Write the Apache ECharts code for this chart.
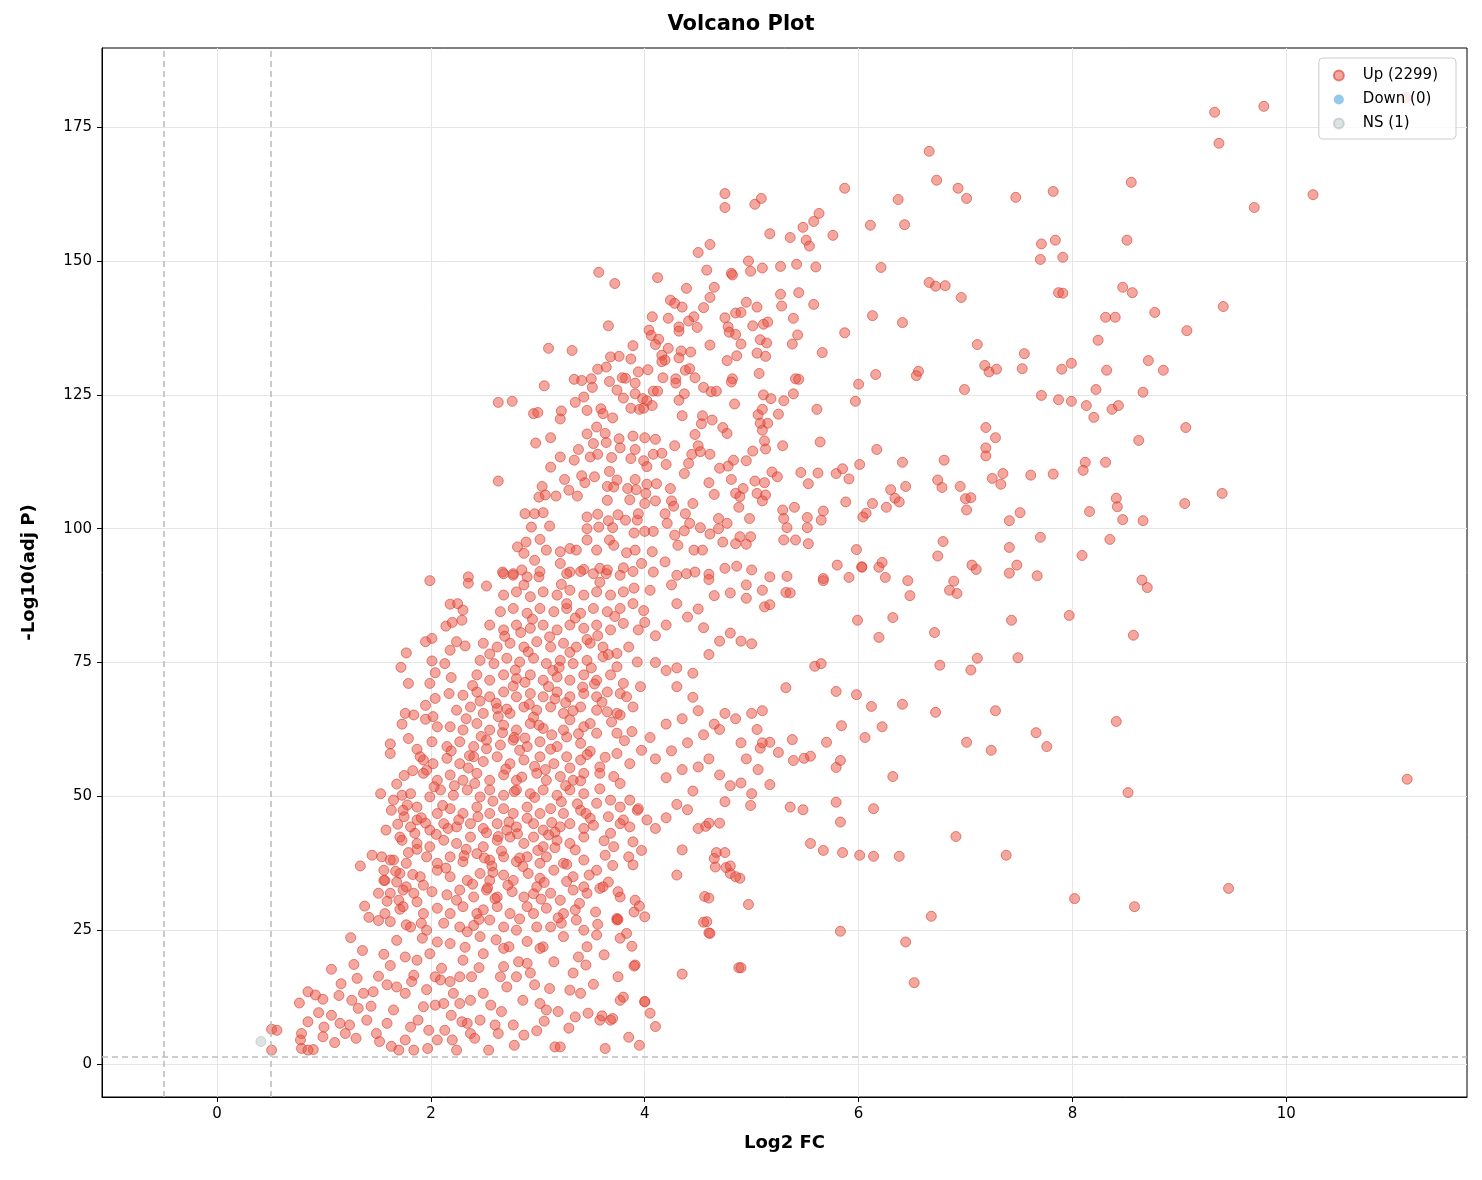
<!DOCTYPE html>
<html><head><meta charset="utf-8">
<script src="https://cdn.jsdelivr.net/npm/echarts@6/dist/echarts.min.js"></script>
<style>html,body{margin:0;padding:0;background:#fff}#c{width:1482px;height:1180px}</style>
</head><body><div id="c"></div>
<script>
const xTicks = [0, 2, 4, 6, 8, 10];
const yTicks = [0, 25, 50, 75, 100, 125, 150, 175];
const nsPoints = [[0.41, 4.2]];
const downPoints = [];
const upOutliers = [
[11.12,180.6],[11.13,53.2],[9.33,177.8],[9.79,178.9],[9.37,172.0],[9.70,160.0],[10.25,162.4],
[6.66,170.5],[6.73,165.1],[6.93,163.6],[7.01,161.7],[6.37,161.5],[7.47,161.9],[7.82,163.0],[8.55,164.7],
[6.11,156.7],[6.43,156.8],[7.71,153.2],[7.84,153.9],[7.70,150.3],[7.91,150.7],[8.51,153.9],[6.21,148.8],
[6.66,146.0],[6.72,145.3],[6.81,145.4],[6.96,143.2],[7.87,144.1],[7.91,144.0],[8.47,145.1],[8.56,144.1],
[9.41,141.5],[6.13,139.8],[6.41,138.5],[8.31,139.5],[8.40,139.5],[8.77,140.4],[9.07,137.0],[7.11,134.4],
[8.24,135.2],[7.55,132.7],[7.18,130.5],[7.22,129.3],[7.29,129.8],[7.53,129.9],[7.99,130.9],[7.90,129.8],
[8.32,129.6],[8.71,131.4],[8.85,129.6],[6.16,128.8],[6.00,127.0],[6.54,128.6],[6.56,129.4],[6.99,126.0],
[5.97,123.8],[7.71,124.9],[7.87,124.1],[7.99,123.8],[8.13,123.0],[8.22,126.0],[8.37,122.3],[8.43,123.0],
[8.20,120.8],[8.66,125.5],[9.06,118.9],[7.19,118.9],[7.28,117.0],[7.19,115.1],[7.19,113.6],[8.62,116.5],
[6.17,114.8],[6.01,112.0],[6.41,112.4],[6.80,112.8],[8.12,112.4],[8.10,110.9],[8.31,112.4],[7.35,110.3],
[7.25,109.4],[7.33,108.3],[7.61,110.0],[7.82,110.2],[6.74,109.1],[6.78,107.7],[6.44,107.9],[6.30,107.3],
[6.34,105.7],[6.38,105.0],[6.95,107.9],[7.00,105.6],[7.05,105.8],[7.01,103.5],[6.13,104.7],[6.26,104.0],
[6.07,102.9],[6.04,102.2],[7.51,103.0],[7.41,101.5],[8.16,103.2],[8.41,105.7],[8.42,104.1],[8.47,101.7],
[8.66,101.5],[9.05,104.7],[9.40,106.6],[6.79,97.6],[6.74,94.9],[7.41,96.5],[7.70,98.4],[8.35,98.0],
[8.09,95.0],[5.98,96.1],[6.03,92.8],[6.19,92.8],[6.22,93.7],[7.06,93.2],[7.10,92.4],[7.48,93.2],
[7.41,91.7],[7.67,91.2],
[5.12,85.4],[5.17,85.8],[5.32,88.1],[5.36,88.0],[5.67,90.3],[5.91,90.9],[6.25,90.9],[6.46,90.3],
[6.48,87.5],[6.85,88.5],[6.92,87.9],[6.89,90.2],[8.65,90.4],[8.70,89.0],[5.99,82.9],[6.32,83.4],
[6.71,80.6],[7.43,82.9],[7.97,83.8],[8.57,80.1],[6.19,79.7],[6.76,74.5],[7.05,73.6],[7.11,75.8],
[7.49,75.9],[5.59,74.3],[5.65,74.8],[5.32,70.3],[5.79,69.6],[5.98,69.0],[6.12,66.8],[6.41,67.2],
[6.72,65.7],[7.28,66.0],[8.41,64.0],[5.84,63.2],[6.22,63.0],[6.06,61.0],[7.01,60.1],[7.24,58.6],
[7.66,61.9],[7.76,59.3],[5.38,60.6],[5.70,60.1],[5.17,60.1],[5.08,59.0],[5.25,58.2],[5.39,56.7],
[5.49,57.1],[5.55,57.5],[5.83,56.7],[5.79,55.4],[6.32,53.7],[8.52,50.7],[5.06,55.0],[5.17,52.2],
[4.99,48.3],[5.36,48.0],[5.48,47.5],[5.79,48.9],[6.14,47.7],[5.83,45.2],[4.57,44.4],[5.55,41.2],
[5.67,39.9],[5.85,39.5],[6.01,39.0],[6.14,38.8],[6.38,38.8],[7.38,39.0],[6.91,42.5],[4.67,39.5],
[4.65,38.4],[4.66,36.8],[4.76,36.7],[4.80,35.6],[4.89,34.7],[9.46,32.8],[8.02,30.9],[8.58,29.4],
[4.56,31.3],[4.97,29.8],[4.58,26.6],[4.61,24.4],[6.68,27.6],[5.83,24.8],[6.44,22.8],[4.88,18.0],[6.52,15.2]
];
const upUpper = [
[4.75,162.6],[4.75,160.0],[5.03,160.6],[5.09,161.7],[5.87,163.6],[5.63,158.9],[5.58,157.4],[5.48,156.3],
[5.51,153.9],[5.54,152.8],[5.36,154.4],[5.17,155.1],[5.76,154.8],[4.61,153.1],[4.50,151.6],
[4.58,148.3],[4.81,147.7],[4.82,147.4],[4.97,150.0],[4.99,148.1],[5.10,148.7],[5.27,149.0],[5.42,149.4],
[5.60,148.9],[3.57,147.9],[3.72,145.8],[4.12,146.9],[4.39,144.9],[4.65,145.1],[5.27,143.8],[5.44,144.1],
[5.28,141.6],[5.58,141.9],[5.87,136.6],[5.66,132.9],[4.24,142.7],[4.28,142.1],[4.35,141.4],
[4.46,139.6],[4.55,141.3],[4.61,143.2],[4.95,142.3],[5.05,141.4],[4.07,139.6],[4.22,139.3],[4.32,137.7],
[4.41,138.8],[4.49,137.6],[4.75,139.4],[4.85,140.3],[4.90,140.4],[4.78,137.7],[5.01,137.9],[5.11,138.2],
[5.15,138.6],[5.39,139.3],[3.66,137.9],[4.04,137.1],[4.06,136.1],[4.13,135.4],[4.10,134.4],[4.32,136.9],
[4.79,136.7],[4.85,136.3],[5.08,135.3],[5.14,134.7],[5.43,136.2],[5.38,134.5],[3.10,133.7],[3.32,133.3],
[3.89,134.2],[3.87,131.7],[3.68,132.1],[3.76,132.2],[4.22,133.7],[4.16,132.4],[4.19,131.5],[4.34,133.2],
[4.43,133.0],[4.32,131.9],[4.61,134.3],[4.90,134.5],[4.86,132.3],[4.77,131.4],[5.05,132.8],[5.13,132.2],
[3.56,129.8],[3.64,130.2],[3.82,128.1],[3.79,128.2],[3.94,129.3],[4.03,129.7],[4.17,128.2],[4.16,131.2],
[4.38,129.6],[4.42,129.9],[4.47,128.2],[4.29,128.0],[4.82,128.0],[4.81,127.4],[5.07,129.0],[5.41,128.0],
[5.44,127.9],[3.34,127.9],[3.41,127.7],[3.50,128.0],[3.06,126.7],[3.51,126.4],[3.67,127.5],
[3.74,125.9],[3.80,124.4],[3.91,127.2],[3.91,125.2],[3.98,124.3],[4.08,125.7],[4.12,125.7],[4.02,123.9],
[4.29,127.2],[4.37,125.2],[4.32,124.0],[4.55,126.4],[4.62,125.6],[4.67,125.7],[4.84,123.3],[5.11,125.0],
[5.18,124.3],[5.30,123.9],[5.39,125.2],[5.61,122.3],[2.63,123.6],[2.76,123.8],[2.96,121.5],
[3.00,121.7],[3.22,122.0],[3.21,120.5],[3.35,123.6],[3.43,124.6],[3.46,122.1],[3.59,122.4],[3.61,121.5],
[3.70,120.7],[3.87,122.5],[3.95,122.3],[3.99,122.5],[4.07,123.0],[4.35,121.1],[4.54,121.1],[4.63,120.3],
[4.53,119.6],[4.73,118.9],[4.77,117.8],[5.06,121.3],[5.10,122.3],[5.15,119.7],[5.25,121.4],[5.08,119.7],
[5.10,118.4],[5.12,116.4],[5.13,114.9],[5.29,115.5],[5.64,116.2],[2.98,116.0],[3.12,117.0],
[3.55,119.0],[3.46,117.7],[3.52,115.9],[3.63,117.8],[3.64,116.1],[3.76,116.8],[3.77,115.1],[3.89,117.3],
[4.00,117.0],[3.91,114.8],[4.10,116.7],[4.28,115.5],[4.47,117.6],[4.50,115.5],[4.44,113.9],[4.52,114.4],
[4.61,113.9],[4.41,112.2],[4.37,110.3],[4.70,111.3],[4.78,111.7],[4.81,109.2],[4.83,112.8],[4.95,112.7],
[5.01,114.5],[5.19,110.6],[5.24,109.7],[5.46,110.5],[5.62,110.4],[5.53,108.4],[5.79,110.3],[5.91,109.3],
[5.85,111.2],[3.12,111.5],[3.21,113.4],[3.34,112.8],[3.38,114.8],[3.49,113.4],[3.56,113.9],[3.69,113.3],
[3.87,113.1],[3.99,112.7],[4.02,111.6],[4.08,113.9],[4.16,114.1],[4.20,112.0],[2.63,108.9],[3.04,107.9],
[3.01,105.9],[3.07,106.3],[3.17,106.1],[3.25,109.2],[3.29,107.2],[3.37,106.1],[3.41,109.9],[3.44,108.6],
[3.53,109.7],[3.67,110.7],[3.65,107.9],[3.71,107.8],[3.74,109.1],[3.84,107.5],[3.91,109.2],[3.92,107.3],
[4.02,108.3],[4.11,108.4],[4.24,107.5],[4.01,106.6],[4.00,104.7],[4.10,105.2],[3.86,105.4],[3.65,105.3],
[4.25,105.2],[4.45,104.7],[4.60,108.6],[4.65,106.4],[4.85,106.6],[4.92,107.5],[4.89,106.0],[5.03,108.9],
[5.12,108.6],[5.05,106.6],[5.13,106.3],[5.10,105.2],[4.88,104.0],[5.29,103.5],[5.40,104.0],[5.52,102.1],
[5.67,103.3],[5.65,101.6],[5.88,105.0],[2.88,102.8],[2.97,102.8],[3.05,103.0],
[2.94,100.3],[3.11,100.5],[3.46,102.2],[3.56,102.7],[3.66,101.5],[3.75,102.6],[3.82,101.6],[3.93,101.6],
[3.94,102.8],[4.19,102.8],[4.27,104.2],[4.38,102.8],[4.42,101.0],[4.69,101.9],[4.77,101.0],[4.98,101.9],
[5.30,101.9],[5.33,100.2],[5.52,100.2],[3.46,100.0],[3.57,100.3],[3.70,100.2],[3.90,99.2],[4.00,99.5],
[4.08,99.5],[4.21,101.0],[4.28,98.8],[4.37,99.6],[4.52,100.2],[4.61,99.0],[4.69,100.0],[4.89,98.5],
[4.99,98.5],[5.30,97.9],[5.41,97.9],[5.53,97.2],[2.81,96.6],[2.87,95.4],[2.89,97.5],[2.97,94.1],
[3.02,98.0],[3.08,96.0],[3.21,95.7],[3.30,96.3],[3.36,96.0],[3.46,97.9],[3.55,96.0],[3.67,97.9],
[3.71,96.9],[3.83,95.5],[3.91,96.0],[4.07,95.7],[4.19,93.8],[4.31,96.9],[4.46,96.0],[4.54,96.0],
[4.73,97.5],[4.85,97.2],[4.95,97.1],[2.67,91.9],[2.77,91.6],[2.85,92.3],[3.01,91.0],[3.21,93.5],
[3.30,91.9],[3.43,92.4],[3.58,92.6],[3.64,91.6],[3.80,92.7],[3.97,93.5],[4.08,91.9],[4.30,91.3],
[4.39,91.6],[4.47,91.9],[4.60,91.5],[4.75,92.6],[4.86,93.0],[5.00,92.3],[5.17,91.0],[5.33,91.1],
[5.67,90.7],[5.80,93.2],[6.03,92.9]
];
const upLower = [
[1.99,90.3],[2.35,91.0],[2.35,89.8],[1.77,76.8],[1.72,74.1],[1.79,71.1],[2.01,79.5],[1.95,78.9],
[2.01,75.3],[2.18,85.9],[2.25,86.0],[2.30,84.8],[2.14,81.8],[2.20,82.5],[2.29,82.9],[2.18,77.3],
[2.24,78.9],[2.32,78.1],[2.13,74.8],[2.19,72.2],[2.04,73.1],[1.99,71.1],[2.17,69.2],[2.04,68.3],
[1.95,67.0],[1.76,65.5],[1.84,65.2],[1.73,63.5],[1.95,64.4],[2.02,64.9],[2.06,63.0],[1.62,59.8],
[1.62,58.0],[1.79,60.8],[1.93,56.8],[1.83,54.8],[1.75,53.9],[1.96,54.9],[1.53,50.5],[1.63,47.4],
[1.73,50.2],[1.78,48.4],[1.75,46.2],[1.87,45.6],[1.85,43.1],[1.73,41.8],[1.87,40.1],[1.34,37.0],
[1.54,38.7],[1.65,38.1],[1.56,36.2],[1.57,34.3],[1.51,31.9],[1.68,34.0],[1.77,33.1],[1.84,31.9],
[1.93,33.4],[1.70,30.6],[1.87,30.3],[1.42,27.4],[1.51,26.8],[1.57,28.1],[1.62,26.6],[1.71,28.9],
[1.77,26.0],[1.91,26.3],[1.25,23.6],[1.36,21.2],[1.56,20.5],[1.68,23.1],[1.76,20.0],[1.87,19.4],
[1.99,20.6],[1.07,17.7],[1.51,16.4],[1.59,14.8],[0.77,11.4],[0.85,13.5],[0.92,12.9],[0.99,12.1],
[0.85,7.9],[1.07,9.1],[1.00,6.9],[0.99,5.1],[0.79,5.7],[0.78,4.5],[0.79,2.9],[0.90,2.7],
[0.85,2.6],[0.51,6.5],[0.56,6.3],[0.51,2.6],[1.15,7.6],[1.20,5.7],[1.24,7.3],[1.26,11.9],
[1.32,10.4],[1.37,13.2],[1.46,13.5],[1.40,8.2],[1.49,5.7],[1.52,4.2],[1.59,7.6],[1.65,10.1],
[1.68,14.4],[1.76,13.2],[1.82,15.4],[1.84,16.6],[1.70,2.6],[1.76,4.5],[1.84,2.6],[1.81,6.9],
[1.88,8.2],[1.93,10.7],[1.98,6.3],[2.04,16.3],[2.09,15.7],[2.10,17.9],[2.18,15.4],[2.27,16.3],
[2.38,16.3],[2.04,11.0],[2.12,11.3],[2.21,13.2],[2.27,11.3],[2.37,11.9],[2.06,4.5],[2.13,6.3],
[2.20,4.5],[2.24,2.6],[2.34,7.6],[2.37,5.7],[2.46,8.2],[2.49,13.2],[2.54,2.6],[2.60,7.3],
[2.63,5.7],[2.65,16.3],[2.68,18.2],[2.73,21.9],[2.71,14.4],[2.77,7.3],[2.80,16.3],[2.86,11.9],
[2.90,18.8],[2.93,17.0],[2.97,14.8],[3.02,11.3],[3.05,21.9],[3.08,10.1],[3.15,19.1],[3.19,9.8],
[3.16,3.2],[3.21,3.2],[3.30,13.8],[3.35,8.8],[3.38,20.0],[3.40,13.2],[3.47,9.5],[3.58,8.2],
[3.63,2.9],[3.68,8.2],[3.77,11.9],[3.75,16.3],[3.91,18.5],[4.00,11.6],
[2.18,22.5],[2.30,19.4],[2.49,20.6],[2.68,21.6],[2.82,19.1],[3.02,21.6],[3.24,23.8],[3.46,21.9],
[3.74,26.9],[3.83,24.4],[3.77,23.5],
[1.81,25.6],[1.96,25.0],[2.12,26.3],[2.27,25.6],[2.34,24.7],[2.40,25.9],[2.46,23.8],[2.55,26.9],
[2.68,25.6],[2.80,25.0],[2.99,25.6],[3.12,25.6],[3.22,26.3],[3.36,26.9],[3.43,25.0],
[1.74,29.4],[1.93,28.1],[2.06,29.1],[2.18,28.1],[2.30,29.4],[2.43,28.1],[2.49,28.8],[2.62,29.4],
[2.74,28.1],[2.90,29.4],[2.96,28.1],[3.08,29.1],[3.24,28.1],[3.35,28.8],[3.54,28.4],[3.74,27.2],[3.90,28.4],
[1.62,31.9],[1.74,32.5],[2.01,32.2],[2.15,31.6],[2.27,32.5],[2.40,31.2],[2.52,32.5],[2.62,31.2],
[2.76,32.2],[2.87,31.2],[2.99,33.1],[3.12,31.9],[3.21,30.6],[3.33,32.5],[3.46,31.9],[3.61,33.1],[3.77,31.2],[3.91,30.6],
[1.56,34.3],[1.71,35.6],[1.90,35.0],[2.06,36.2],[2.18,35.0],[2.34,34.3],[2.46,35.6],[2.55,34.3],
[2.68,35.3],[2.77,34.3],[2.91,35.6],[3.02,34.7],[3.15,36.2],[3.33,35.0],[3.43,33.1],[3.58,32.8],[3.66,34.0],[3.75,32.2],
[1.62,38.1],[1.77,37.5],[1.96,38.7],[2.06,37.5],[2.18,38.7],[2.30,37.8],[2.43,39.3],[2.55,38.1],
[2.68,38.7],[2.80,37.8],[2.90,38.7],[3.02,37.5],[3.08,38.7],[3.24,37.5],[3.43,38.1],[3.55,36.2],[3.63,39.0],[3.85,38.7],[3.89,37.2],
[1.71,42.4],[1.87,41.2],[1.99,40.6],[2.12,41.8],[2.24,41.2],[2.37,42.4],[2.49,40.6],[2.62,41.8],
[2.74,42.4],[2.87,41.2],[2.96,42.4],[3.05,40.6],[3.18,41.8],[3.30,41.2],[3.43,42.4],[3.71,40.6],[3.89,41.5],[3.97,39.9],
[1.81,44.3],[1.99,43.7],[2.12,44.9],[2.24,44.3],[2.37,44.9],[2.49,44.0],[2.62,44.9],[2.71,43.7],
[2.80,44.3],[2.96,44.9],[3.05,43.7],[3.21,44.3],[3.30,44.9],[3.43,44.0],[3.68,43.1],[3.77,44.9],[3.86,44.3],
[1.74,47.4],[1.87,48.0],[2.06,46.8],[2.18,47.7],[2.30,46.8],[2.43,48.0],[2.55,46.8],[2.68,47.7],
[2.77,46.8],[2.90,48.0],[3.02,46.8],[3.12,47.7],[3.24,46.8],[3.40,47.4],[3.49,45.9],[3.66,46.2],[3.80,45.6],[3.93,47.4],[4.02,45.6],
[1.65,49.3],[1.81,50.5],[1.99,49.9],[2.09,51.2],[2.21,50.2],[2.34,51.2],[2.46,49.9],[2.55,51.2],
[2.68,50.2],[2.80,51.2],[2.93,50.5],[3.05,51.2],[3.18,50.2],[3.30,51.2],[3.43,50.5],[3.55,48.7],[3.68,49.3],[3.77,48.0],[3.86,49.3],[3.94,47.7],
[1.93,54.3],[2.06,53.0],[2.18,54.0],[2.30,53.0],[2.43,54.3],[2.55,53.0],[2.68,54.0],[2.80,53.0],
[2.99,54.3],[3.08,53.0],[3.21,53.7],[3.33,53.0],[3.43,54.3],[3.58,54.3],[3.71,53.7],[3.77,52.4],
[1.90,57.4],[2.02,56.1],[2.15,57.1],[2.27,56.1],[2.40,57.4],[2.49,56.5],[2.62,57.4],[2.74,56.1],
[2.87,56.8],[3.02,57.4],[3.15,56.1],[3.27,57.4],[3.40,56.8],[3.58,55.5],[3.74,58.0],[3.86,56.1],[3.97,58.6],
[2.01,60.2],[2.15,59.3],[2.27,60.2],[2.40,59.3],[2.52,60.5],[2.65,59.6],[2.77,60.5],[2.90,59.3],
[3.02,60.2],[3.18,59.3],[3.27,61.1],[3.40,59.9],[3.55,61.8],[3.74,61.8],[3.88,62.1],
[2.18,63.0],[2.30,62.4],[2.43,63.6],[2.55,62.4],[2.68,63.3],[2.80,62.4],[2.93,63.6],[3.05,62.7],
[3.24,62.4],[3.43,63.0],[3.49,63.6],[3.65,65.8],[3.77,65.2],
[2.24,66.1],[2.37,66.7],[2.49,65.5],[2.62,66.4],[2.74,65.5],[2.87,66.7],[2.99,66.1],[3.12,66.7],
[3.24,65.5],[3.40,66.7],[3.55,66.1],[3.74,65.5],[3.89,66.7],
[2.30,68.9],[2.43,69.5],[2.55,68.6],[2.68,69.5],[2.80,68.6],[2.93,69.2],[3.05,68.6],[3.18,69.5],
[3.30,68.6],[3.43,69.2],[3.55,68.6],[3.65,69.5],[3.77,69.2],[3.83,68.6],
[2.43,72.7],[2.55,71.7],[2.68,72.7],[2.80,72.0],[2.93,72.7],[3.05,71.7],[3.18,72.3],[3.30,71.7],
[3.43,72.7],[3.55,71.7],[3.68,72.7],[3.80,71.1],[3.96,70.5],
[2.46,75.4],[2.59,74.8],[2.71,75.8],[2.83,75.1],[2.96,75.8],[3.08,74.8],[3.21,75.4],[3.33,74.8],
[3.46,75.4],[3.61,76.1],[3.74,74.2],[3.93,75.1],
[2.49,78.6],[2.62,77.9],[2.74,78.6],[2.87,77.9],[2.99,78.9],[3.12,77.9],[3.24,78.6],[3.36,77.9],
[3.49,78.6],[3.61,77.9],[3.74,76.7],
[2.55,82.0],[2.68,81.1],[2.80,82.0],[2.93,81.4],[3.05,82.0],[3.18,81.1],[3.30,82.0],[3.43,81.4],
[3.55,82.0],[3.68,81.1],[3.80,82.3],[3.94,81.1],
[2.65,84.5],[2.77,85.1],[2.90,84.2],[3.02,85.1],[3.15,84.5],[3.27,85.1],[3.40,84.2],[3.52,85.1],
[3.65,84.5],[3.77,85.1],[3.89,86.0],
[2.68,87.6],[2.80,88.2],[2.93,87.3],[3.05,88.2],[3.18,87.6],[3.30,88.5],[3.43,87.6],[3.55,88.2],
[3.68,87.6],[3.80,88.2],
[2.68,91.6],[2.77,91.3],[2.90,91.0],[3.02,92.0],[3.27,91.6],[3.40,92.0],[3.52,91.6],[3.65,92.3],
[3.77,91.3],[3.89,92.0]
];
const upMid = [
[4.0,11.7],[3.9,18.3],[4.35,16.8],[3.8,12.5],[3.75,27],[3.95,29.5],[4.0,27.5],[4.3,35.3],[4.35,40],
[4.1,44],[4.2,46],[4.4,47.5],[4.5,44],[4.6,45],[4.3,48.5],[4.45,51],[4.2,53.5],[4.35,55],[4.5,55.5],
[4.6,57],[4.7,54],[4.8,52],[4.75,49],[4.1,57],[4.25,58.5],[4.4,60],[4.55,61.5],[4.7,62.5],[4.85,64.5],
[4.9,60],[4.05,61],[4.2,63.5],[4.35,64.5],[4.5,66],[4.65,63.5],[4.75,65.5],[4.45,68.5],[4.3,70.5],
[4.2,73.5],[4.1,75],[4.3,74],[4.45,73],[4.6,76.5],[4.7,79],[4.8,80.5],[4.9,79],[5.0,78.5],[4.55,81.5],
[4.4,83.5],[4.2,82],[4.1,80],[4.0,82.5],[4.3,86],[4.5,85],[4.65,87.5],[4.8,88],[4.95,87],[4.05,88.5],
[4.25,89.5],[4.6,90.5],[4.7,45],[4.85,35],[4.8,37],[4.75,39.5],[4.6,31],[4.55,26.5],[4.6,24.5],[4.9,18],
[4.1,7],[4.05,9.5],[3.85,5],[3.7,8.5],[3.6,9],[3.95,3.5],[5.0,65.5],[5.1,66],[5.05,62.5],[4.95,57],
[5.1,60],[5.0,50.5],[4.9,52.5],[5.1,88.5],[4.95,89.5]
];
const upCore = [
[2.11,48.3],[2.26,45.6],[2.41,52.4],[2.58,49.1],[2.73,45.2],[2.85,53.6],[2.97,49.8],[3.13,45.1],
[3.26,52.0],[3.37,48.6],[2.05,42.9],[2.33,40.1],[2.52,43.2],[2.66,39.8],[2.81,43.0],[3.00,39.9],
[3.16,43.3],[3.35,40.0],[3.52,44.6],[3.62,41.7],[2.14,36.6],[2.39,33.6],[2.57,37.0],[2.72,33.4],
[2.86,36.9],[3.06,33.9],[3.27,37.3],[3.48,35.3],[3.70,37.1],[2.24,30.6],[2.45,27.0],[2.60,30.9],
[2.83,27.1],[3.03,30.8],[3.19,27.3],[3.39,30.0],[3.56,26.1],[2.19,58.5],[2.35,55.3],[2.52,58.9],
[2.70,55.1],[2.83,58.6],[2.97,55.6],[3.12,58.8],[3.30,55.3],[3.49,58.4],[3.63,57.3],[2.33,64.5],
[2.47,61.2],[2.63,64.9],[2.78,61.0],[2.96,64.8],[3.13,61.5],[3.30,64.3],[3.38,61.7],[2.39,70.7],
[2.61,67.4],[2.77,70.6],[2.92,67.2],[3.10,70.5],[3.26,67.5],[3.42,70.4],[3.60,67.6],[2.55,76.6],
[2.79,73.6],[2.91,77.0],[3.14,73.5],[3.30,76.9],[3.50,74.0],[3.66,76.5],[2.69,79.9],[2.95,83.1],
[3.11,79.8],[3.35,83.3],[3.56,80.0],[3.72,83.6],[2.87,89.5],[3.22,89.6],[3.58,90.0],[1.91,46.0],
[1.79,39.5],[1.67,36.0],[1.59,30.4],[1.83,35.4],[2.03,51.8],[1.95,45.0],[1.69,44.8],[2.45,18.0],
[2.61,23.2],[2.90,22.9],[3.11,14.1],[2.56,11.0],[2.19,9.1],[1.96,13.9],[1.62,18.4],[1.31,16.0],
[1.14,12.8],[1.44,10.8],[2.78,3.5],[2.41,4.8],[2.99,6.2],[3.29,6.7],[3.52,14.9],[3.62,20.4],
[3.88,22.0],[3.55,24.1],[2.06,22.8],[1.92,23.5],[2.32,21.8],[2.53,32.9],[2.83,38.5],[3.16,40.4],
[3.45,46.8],[3.58,51.4],[3.81,60.4],[3.69,63.9],[3.53,71.0],[3.85,77.9],[3.99,84.7],[3.90,88.9],
[2.44,46.2],[2.63,42.5],[2.78,50.9],[2.90,45.9],[3.07,55.0],[3.22,49.0],[2.36,57.6],[2.67,61.9],
[3.01,63.3],[3.33,66.0],[2.46,67.8],[2.88,71.3],[3.20,74.1],[2.31,38.9],[2.58,35.8],[2.96,31.8],
[3.27,34.1],[2.16,44.0],[2.50,38.5],[3.10,42.8],[3.40,52.9],[2.22,52.0],[2.88,60.9],[3.46,57.8],
[2.71,66.3],[3.16,68.2],[2.84,80.6],[3.27,86.0],[3.46,79.3],[2.52,89.3],[1.87,58.8],[1.68,52.3],
[1.45,39.0],[1.58,43.7],[1.38,29.5],[1.28,18.6],[1.16,15.0],[0.95,9.6],[1.10,4.0],[1.30,4.8],
[1.63,3.3],[1.97,2.9],[2.29,7.9],[2.66,9.8],[2.87,5.4],[3.06,8.0],[3.33,17.0],[3.45,18.5]
];
const upPoints = upOutliers.concat(upUpper, upLower, upMid, upCore);

const red = 'rgba(231,76,60,0.62)';
const chart = echarts.init(document.getElementById('c'));
const axisCommon = {
  axisLine: {show: true, onZero: false, lineStyle: {color: '#000', width: 1}},
  axisTick: {show: true, length: 5, lineStyle: {color: '#000'}},
  splitLine: {show: true, lineStyle: {color: '#e6e6e6', width: 1}},
  axisLabel: {color: '#000', fontSize: 15, fontFamily: 'DejaVu Sans'},
  nameTextStyle: {color: '#000', fontSize: 18, fontWeight: 'bold', fontFamily: 'DejaVu Sans'}
};
chart.setOption({
  animation: false,
  title: {text: 'Volcano Plot', left: 'center', top: 9,
    textStyle: {fontSize: 21, fontWeight: 'bold', color: '#000', fontFamily: 'DejaVu Sans'}},
  grid: {left: 102, right: 15, top: 48, bottom: 83, show: true, borderColor: '#000', borderWidth: 1, backgroundColor: 'transparent'},
  legend: {
    right: 26, top: 58, orient: 'vertical', itemGap: 9, itemWidth: 10, itemHeight: 10,
    backgroundColor: 'rgba(255,255,255,0.8)', borderColor: '#ccc', borderWidth: 1, borderRadius: 4, padding: [10, 18, 8, 14],
    textStyle: {fontSize: 15, color: '#000', fontFamily: 'DejaVu Sans', padding: [0, 0, 0, 14]},
    data: [
      {name: 'Up (2299)', icon: 'circle', itemStyle: {color: red}},
      {name: 'Down (0)', icon: 'circle', itemStyle: {color: 'rgba(52,152,219,0.65)'}},
      {name: 'NS (1)', icon: 'circle', itemStyle: {color: 'rgba(149,165,166,0.4)'}}
    ]
  },
  xAxis: Object.assign({}, axisCommon, {
    type: 'value', min: -1.076, max: 11.69, name: 'Log2 FC', nameLocation: 'middle', nameGap: 37,
    axisTick: Object.assign({}, axisCommon.axisTick, {customValues: xTicks}),
    axisLabel: Object.assign({}, axisCommon.axisLabel, {customValues: xTicks, margin: 10})
  }),
  yAxis: Object.assign({}, axisCommon, {
    type: 'value', min: -6.16, max: 189.8, name: '-Log10(adj P)', nameLocation: 'middle', nameGap: 64,
    axisTick: Object.assign({}, axisCommon.axisTick, {customValues: yTicks}),
    axisLabel: Object.assign({}, axisCommon.axisLabel, {customValues: yTicks, margin: 10})
  }),
  series: [
    {name: 'Up (2299)', type: 'scatter', data: upPoints, symbolSize: 10,
     itemStyle: {color: red, borderColor: 'rgba(210,60,45,0.75)', borderWidth: 1},
     markLine: {silent: true, symbol: 'none', label: {show: false},
       lineStyle: {color: '#bdbdbd', type: [6, 4], width: 1.6},
       data: [{xAxis: -0.5}, {xAxis: 0.5}, {yAxis: 1.301}]}},
    {name: 'Down (0)', type: 'scatter', data: downPoints, symbolSize: 10, itemStyle: {color: 'rgba(52,152,219,0.65)'}},
    {name: 'NS (1)', type: 'scatter', data: nsPoints, symbolSize: 10, itemStyle: {color: 'rgba(149,165,166,0.4)', borderColor: 'rgba(149,165,166,0.5)', borderWidth: 1}}
  ]
});
</script></body></html>
